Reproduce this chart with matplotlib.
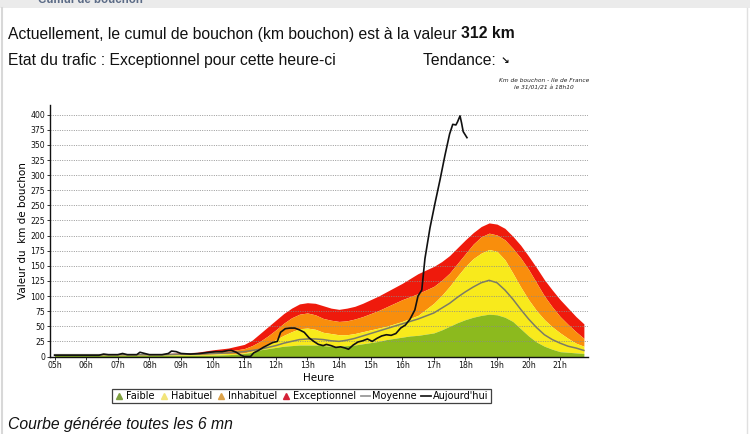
import matplotlib
matplotlib.use("Agg")
import matplotlib.pyplot as plt
from matplotlib.lines import Line2D

# ---------------- data ----------------
band_hours = [5.0, 5.5, 6.0, 6.5, 7.0, 7.5, 8.0, 8.5, 9.0, 9.5, 10.0,
              10.5, 10.75, 11.0, 11.25, 11.5, 11.75, 12.0, 12.25, 12.5, 12.75,
              13.0, 13.25, 13.5, 13.75, 14.0, 14.25, 14.5, 14.75, 15.0, 15.25,
              15.5, 15.75, 16.0, 16.25, 16.5, 16.75, 17.0, 17.25, 17.5, 17.75,
              18.0, 18.25, 18.5, 18.75, 19.0, 19.25, 19.5, 19.75, 20.0, 20.25,
              20.5, 20.75, 21.0, 21.25, 21.5, 21.75]
exceptionnel_top = [4, 4, 4, 4, 4, 4, 4, 5, 6, 7, 11,
                    14, 17, 20, 27, 38, 49, 60, 71, 80, 87,
                    89, 88, 84, 80, 78, 80, 83, 88, 94, 100,
                    107, 114, 121, 129, 137, 143, 149, 157, 167, 180,
                    193, 205, 215, 221, 219, 212, 199, 184, 166, 147,
                    127, 110, 94, 80, 66, 54]
inhabituel_top = [3, 3, 3, 3, 3, 3, 3, 4, 4, 5, 7,
                  9, 11, 13, 18, 25, 34, 44, 55, 64, 70,
                  72, 69, 63, 60, 58, 59, 62, 66, 71, 76,
                  82, 88, 94, 99, 104, 110, 116, 126, 138, 154,
                  170, 186, 198, 204, 201, 193, 179, 163, 144, 122,
                  100, 82, 66, 53, 41, 30]
habituel_top = [2.5, 2.5, 2.5, 2.5, 2.5, 2.5, 2.5, 3, 3, 3, 4,
                5, 5, 6, 9, 13, 20, 28, 35, 41, 46,
                47, 45, 40, 38, 36, 36, 38, 41, 44, 47,
                50, 54, 58, 63, 68, 78, 88, 101, 116, 133,
                149, 162, 171, 177, 174, 160, 138, 115, 94, 76,
                61, 49, 39, 30, 22, 17]
faible_top = [2, 2, 2, 2, 2, 2, 2, 2, 2, 2, 2,
              3, 4, 5, 7, 11, 13, 15, 17, 18, 19,
              19, 19, 18, 17, 17, 18, 19, 21, 23, 25,
              28, 30, 32, 34, 35, 37, 39, 44, 50, 56,
              61, 65, 68, 70, 69, 65, 58, 46, 34, 24,
              17, 12, 8, 7, 6, 5]
moyenne = [3, 3, 3, 3, 3, 3, 3, 3, 4, 4, 5,
           6, 7, 8, 10, 12, 15, 18, 22, 25, 28,
           29, 29, 28, 26, 25, 27, 30, 34, 38, 42,
           46, 50, 54, 58, 62, 67, 72, 80, 88, 98,
           107, 115, 122, 126, 122, 110, 95, 78, 62, 48,
           36, 28, 22, 17, 14, 10]

today_hours = [5.0, 5.5, 6.0, 6.4, 6.55, 6.7, 7.0, 7.15, 7.3, 7.6, 7.7, 7.85, 8.0, 8.4,
               8.6, 8.7, 8.85, 9.0, 9.3, 9.6, 9.9, 10.1, 10.3, 10.5, 10.6, 10.75, 10.9,
               11.0, 11.2, 11.3, 11.45, 11.6, 11.75, 11.9, 12.05, 12.15, 12.3, 12.45,
               12.6, 12.75, 12.9, 13.05, 13.2, 13.35, 13.5, 13.6, 13.75, 13.9, 14.05,
               14.2, 14.3, 14.45, 14.6, 14.75, 14.9, 15.05, 15.2, 15.35, 15.5, 15.65,
               15.8, 15.95, 16.1, 16.25, 16.4, 16.5, 16.62, 16.72, 16.88, 17.04, 17.2,
               17.35, 17.5, 17.6, 17.7, 17.75, 17.83, 17.88, 17.93, 18.05]
today_values = [2, 2, 2, 2, 4, 3, 3, 5, 3, 3, 7, 5, 3, 3,
                5, 9, 8, 5, 4, 5, 7, 8, 8, 10, 10, 7, 2,
                0, 0, 6, 10, 15, 19, 23, 25, 40, 46, 47,
                47, 44, 40, 31, 25, 20, 18, 20, 18, 15, 16,
                14, 12, 19, 24, 26, 29, 25, 30, 34, 36, 35,
                38, 47, 52, 62, 77, 100, 110, 162, 213, 254, 293,
                332, 368, 384, 383, 388, 398, 386, 372, 362]

hour_ticks = [5, 6, 7, 8, 9, 10, 11, 12, 13, 14, 15, 16, 17, 18, 19, 20, 21]
hour_labels = ["05h", "06h", "07h", "08h", "09h", "10h", "11h", "12h", "13h",
               "14h", "15h", "16h", "17h", "18h", "19h", "20h", "21h"]
y_ticks = [0, 25, 50, 75, 100, 125, 150, 175, 200, 225, 250, 275, 300, 325, 350, 375, 400]

# ---------------- figure ----------------
W, H = 750, 434
fig = plt.figure(figsize=(W / 100, H / 100), dpi=100)
fig.patch.set_facecolor("white")


def fx(x):
    return x / W


def fy(y):
    return 1 - y / H


# page decoration: header bar and borders
fig.patches.append(plt.Rectangle((0, fy(8)), 1, 8 / H, transform=fig.transFigure,
                                 facecolor="#ebebeb", edgecolor="none", zorder=0))
fig.text(fx(38), fy(0), "Cumul de bouchon", fontsize=8.3, fontweight="bold",
         color="#5b6b86", va="center", ha="left", family="Liberation Sans")
fig.add_artist(Line2D([fx(2), fx(2)], [0, fy(8)], transform=fig.transFigure,
                      color="#d8d8d8", lw=1.5))
fig.add_artist(Line2D([fx(747), fx(747)], [0, fy(8)], transform=fig.transFigure,
                      color="#e0e0e0", lw=1.0))

# header texts
txt_font = "Liberation Sans"
fs = 11.3
t1 = fig.text(fx(8), fy(38.5), "Actuellement, le cumul de bouchon (km bouchon) est à la valeur ",
              fontsize=fs, family=txt_font, va="baseline", ha="left", color="#111111")
fig.canvas.draw()
r = fig.canvas.get_renderer()
bb = t1.get_window_extent(renderer=r)
fig.text(bb.x1 / W, fy(38.5), "312 km", fontsize=fs, family=txt_font,
         fontweight="bold", va="baseline", ha="left", color="#111111")
fig.text(fx(8), fy(65), "Etat du trafic : Exceptionnel pour cette heure-ci",
         fontsize=fs, family=txt_font, va="baseline", ha="left", color="#111111")
t2 = fig.text(fx(423), fy(65), "Tendance: ", fontsize=fs, family=txt_font,
              va="baseline", ha="left", color="#111111")
fig.canvas.draw()
bb2 = t2.get_window_extent(renderer=r)
fig.text(bb2.x1 / W, fy(64), "↘", fontsize=7.5, family="DejaVu Sans", fontweight="bold",
         va="baseline", ha="left", color="#111111")

# small chart title
fig.text(fx(544), fy(81), "Km de bouchon - Ile de France", fontsize=4.2, style="italic",
         ha="center", va="center", family="DejaVu Sans", color="#222222")
fig.text(fx(544), fy(88.5), "le 31/01/21 à 18h10", fontsize=4.2, style="italic",
         ha="center", va="center", family="DejaVu Sans", color="#222222")

# ---------------- axes ----------------
ax = fig.add_axes([fx(50), fy(356.5), fx(588) - fx(50), (356.5 - 105) / H])
ax.set_xlim(4.854, 21.88)
ax.set_ylim(0, 416)

c_green = "#8cba1e"
c_yellow = "#f8ea1c"
c_orange = "#f98e0c"
c_red = "#ef1a0c"

zeros = [0] * len(band_hours)
ax.fill_between(band_hours, inhabituel_top, exceptionnel_top, color=c_red, lw=0, zorder=1)
ax.fill_between(band_hours, habituel_top, inhabituel_top, color=c_orange, lw=0, zorder=1)
ax.fill_between(band_hours, faible_top, habituel_top, color=c_yellow, lw=0, zorder=1)
ax.fill_between(band_hours, zeros, faible_top, color=c_green, lw=0, zorder=1)

ax.plot(band_hours, moyenne, color="#7c7c66", lw=1.1, zorder=3)
ax.plot(today_hours, today_values, color="#111111", lw=1.2, zorder=4)

ax.set_axisbelow("line")
ax.yaxis.grid(True, linestyle=(0, (1.2, 1.6)), color="#8a8a8a", lw=0.6)
ax.set_yticks(y_ticks)
ax.set_xticks(hour_ticks)
ax.set_xticklabels(hour_labels)
ax.tick_params(axis="both", labelsize=5.6, length=2, width=0.6, pad=1.5, colors="#111111")
for s in ("top", "right"):
    ax.spines[s].set_visible(False)
for s in ("left", "bottom"):
    ax.spines[s].set_linewidth(1.0)
    ax.spines[s].set_color("#111111")

ax.set_xlabel("Heure", fontsize=7.5, labelpad=2, family="DejaVu Sans")
ax.set_ylabel("Valeur du  km de bouchon", fontsize=7.5, labelpad=2, family="DejaVu Sans")

# ---------------- legend ----------------
handles = [
    Line2D([], [], marker="^", ls="none", color="#7fa040", markersize=4),
    Line2D([], [], marker="^", ls="none", color="#f2e47a", markersize=4),
    Line2D([], [], marker="^", ls="none", color="#dca24a", markersize=4),
    Line2D([], [], marker="^", ls="none", color="#d42238", markersize=4),
    Line2D([], [], color="#9a9a9a", lw=1.3),
    Line2D([], [], color="#222222", lw=1.3),
]
labels = ["Faible", "Habituel", "Inhabituel", "Exceptionnel", "Moyenne", "Aujourd'hui"]
leg = fig.legend(handles, labels, loc="center", bbox_to_anchor=(fx(301.5), fy(396)),
                 ncol=6, frameon=True, fancybox=False, edgecolor="#111111",
                 handlelength=1.0, handletextpad=0.2, columnspacing=0.45,
                 borderpad=0.25, prop={"family": "DejaVu Sans", "size": 7.0})
leg.get_frame().set_linewidth(0.9)

# footer
fig.text(fx(8), fy(429), "Courbe générée toutes les 6 mn", fontsize=fs, style="italic",
         family=txt_font, va="baseline", ha="left", color="#111111")

fig.savefig("out.png", dpi=100, facecolor="white")
